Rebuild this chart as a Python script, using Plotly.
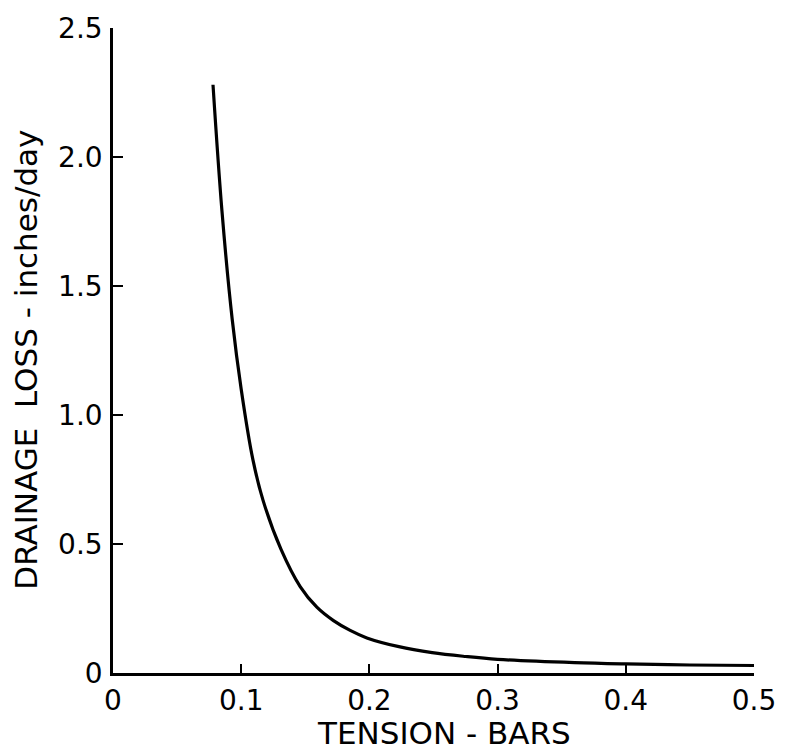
import plotly.graph_objects as go

# Data
tension_bars = [0.078, 0.085, 0.093, 0.100, 0.109, 0.117, 0.131, 0.146,
                0.159, 0.172, 0.185, 0.198, 0.223, 0.249, 0.275, 0.300,
                0.360, 0.400, 0.450, 0.500]
drainage_loss = [2.28, 1.79, 1.37, 1.10, 0.83, 0.67, 0.48, 0.335,
                 0.255, 0.203, 0.165, 0.136, 0.102, 0.079, 0.064, 0.053,
                 0.040, 0.035, 0.031, 0.029]

x_tick_vals = [0, 0.1, 0.2, 0.3, 0.4, 0.5]
x_tick_text = ["0", "0.1", "0.2", "0.3", "0.4", "0.5"]
y_tick_vals = [0, 0.5, 1.0, 1.5, 2.0, 2.5]
y_tick_text = ["0", "0.5", "1.0", "1.5", "2.0", "2.5"]

x_title = "TENSION - BARS"
y_title = "DRAINAGE  LOSS - inches/day"

FONT = "DejaVu Sans"

fig = go.Figure()
fig.add_trace(go.Scatter(
    x=tension_bars, y=drainage_loss, mode="lines",
    line=dict(color="black", width=3.2, shape="spline", smoothing=1.0),
    showlegend=False, hoverinfo="skip",
))

fig.update_layout(
    width=788, height=753,
    margin=dict(l=113, r=25, t=26, b=80),
    paper_bgcolor="white", plot_bgcolor="white",
    font=dict(family=FONT, color="black", size=28),
    xaxis=dict(
        range=[0, 0.5], showgrid=False, zeroline=False,
        showline=True, linecolor="black", linewidth=2.5, mirror=False,
        ticks="inside", ticklen=9, tickwidth=2, tickcolor="black",
        tickvals=x_tick_vals, ticktext=x_tick_text,
        tickfont=dict(family=FONT, size=28, color="black"),
        ticklabelstandoff=1,
    ),
    yaxis=dict(
        range=[0, 2.5], showgrid=False, zeroline=False,
        showline=True, linecolor="black", linewidth=2.5, mirror=False,
        ticks="inside", ticklen=10, tickwidth=2, tickcolor="black",
        tickvals=y_tick_vals, ticktext=y_tick_text,
        tickfont=dict(family=FONT, size=28, color="black"),
        ticklabelstandoff=2,
    ),
    annotations=[
        dict(text=x_title, xref="paper", yref="paper", x=0.517, y=-0.093,
             xanchor="center", yanchor="middle", showarrow=False,
             font=dict(family=FONT, size=31, color="black")),
        dict(text=y_title, xref="paper", yref="paper", x=-0.137, y=0.486,
             xanchor="center", yanchor="middle", showarrow=False, textangle=-90,
             font=dict(family=FONT, size=31, color="black")),
    ],
)

# remove the default 8px page margin so the figure fills the window exactly
fig.write_html(
    "out.html",
    config=dict(displayModeBar=False),
    post_script="document.body.style.margin='0';document.body.style.overflow='hidden';",
)
